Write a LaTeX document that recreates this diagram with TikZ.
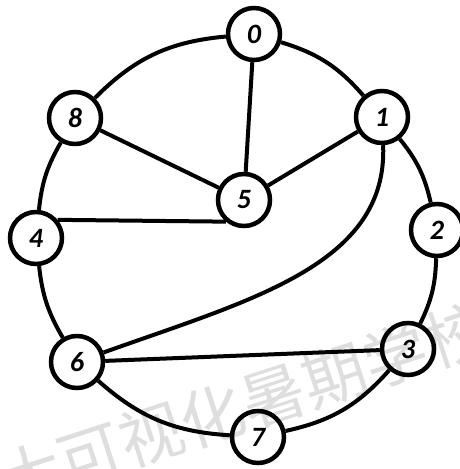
\documentclass[tikz,border=0pt]{standalone}
\usepackage{fontspec}
\setmainfont{Carlito}
\newfontfamily\cjk{Noto Sans CJK SC}
\usetikzlibrary{backgrounds}
\begin{document}
\begin{tikzpicture}[x=1pt,y=-1pt,
  vtx/.style={circle,draw=black,fill=white,line width=4.5pt,minimum size=52pt,inner sep=0pt,
    font=\fontsize{28}{30}\selectfont\bfseries\itshape},
  edge/.style={draw=black,line width=4pt}]
\useasboundingbox (0,0) rectangle (460,469);
\clip (0,0) rectangle (460,469);
\node[vtx] (n0) at (254,34) {0};
\node[vtx] (n1) at (382,117) {1};
\node[vtx] (n2) at (437,230) {2};
\node[vtx] (n3) at (408,349) {3};
\node[vtx] (n7) at (258,437) {7};
\node[vtx] (n6) at (77,362) {6};
\node[vtx] (n4) at (36,238) {4};
\node[vtx] (n8) at (75,118) {8};
\node[vtx] (n5) at (244,200) {5};
\begin{pgfonlayer}{background}
\begin{scope}[every path/.style={edge}]
\draw (n0) to[bend left=16] (n1);
\draw (n1) to[bend left=13] (n2);
\draw (n2) to[bend left=12] (n3);
\draw (n3) to[bend left=18] (n7);
\draw (n7) to[bend left=19] (n6);
\draw (n6) to[bend left=12] (n4);
\draw (n4) to[bend left=12] (n8);
\draw (n8) to[bend left=20] (n0);
\draw (n0) -- (n5);
\draw (n8) -- (n5);
\draw (n1) -- (n5);
\draw (n4.40) -- (n5.230);
\draw (n6) -- (n3);
\draw (n6) .. controls (250,300) and (388,265) .. (n1);
\end{scope}
\end{pgfonlayer}
\node[opacity=0.13,rotate=18,font=\cjk\fontsize{64}{66}\selectfont] (wm) at (243,405) {大可视化暑期学校};
\end{tikzpicture}
\end{document}
